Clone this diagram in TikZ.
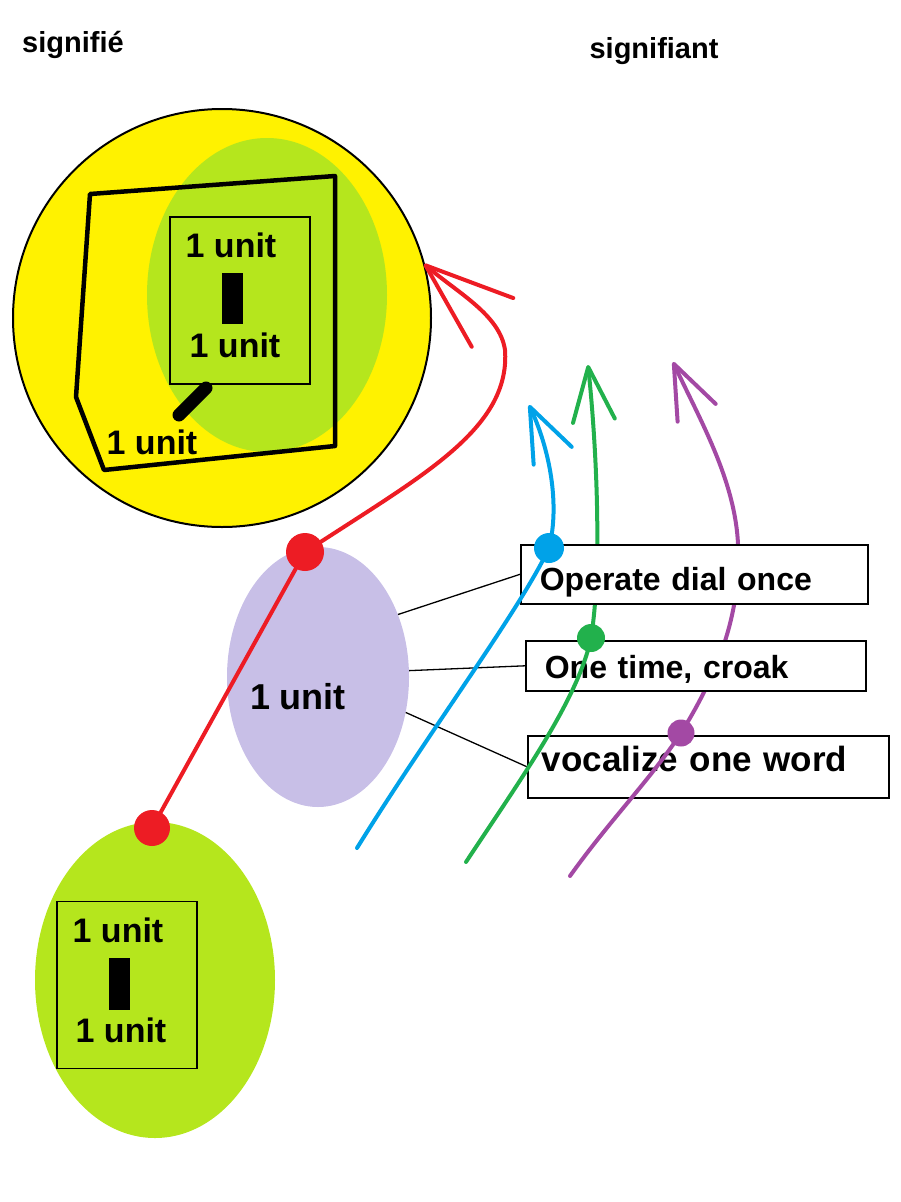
\documentclass[tikz,border=0pt]{standalone}
\usepackage{fontspec}
\setmainfont{Liberation Sans}
\usetikzlibrary{arrows.meta, shapes.geometric, positioning}
\definecolor{pyellow}{HTML}{FFF200}
\definecolor{plime}{HTML}{B5E61D}
\definecolor{plav}{HTML}{C8BFE7}
\definecolor{pred}{HTML}{ED1C24}
\definecolor{pblue}{HTML}{00A2E8}
\definecolor{pgreen}{HTML}{22B14C}
\definecolor{ppurple}{HTML}{A349A4}

\begin{document}
\begin{tikzpicture}[x=1pt,y=-1pt,>={Straight Barb[round,length=54pt,width=42pt]},
      every node/.style={font=\bfseries\fontsize{32}{38}\selectfont},
      spot/.style={circle,inner sep=0pt,minimum size=#1},
      plate/.style={draw,line width=1.6pt,inner sep=0pt,minimum width=140pt,minimum height=167pt},
      msg/.style={draw,fill=white,line width=1.6pt,anchor=north west,align=left,
        inner xsep=19pt,inner ysep=2pt,text width=#1},
      unitlabel/.style={font=\bfseries\fontsize{34}{40}\selectfont},
      curve/.style={line width=4pt,line cap=round}]
      \useasboundingbox (0,0) rectangle (900,1202);
      \node[font=\bfseries\fontsize{29}{34}\selectfont] (signifie) at (73,45) {signifié};
      \node[font=\bfseries\fontsize{29}{34}\selectfont] (signifiant) at (654,51) {signifiant};
      \node[circle,draw,line width=2pt,fill=pyellow,inner sep=0pt,minimum size=418pt] (sig) at (222,318) {};
      \node[ellipse,fill=plime,inner sep=0pt,minimum width=240pt,minimum height=314pt] (sig_in) at (267,295) {};
      \draw[line width=4.5pt,line join=round] (90,194) -- (335,176) -- (335,446) -- (104,470) -- (76,397) -- cycle;
      \node[plate] (plate_1) at (240,300.5) {};
      \node[unitlabel] (unit_1) at (231,245) {1 unit};
      \node[unitlabel] (unit_2) at (235,345) {1 unit};
      \fill (222,273) rectangle (243,324);
      \draw[line width=13pt,line cap=round] (206,388) -- (179,415);
      \node[unitlabel] (unit_3) at (152,442) {1 unit};
      \node[ellipse,fill=plime,inner sep=0pt,minimum width=240pt,minimum height=316pt] (sig_low) at (155,980) {};
      \node[plate] (plate_2) at (127,985) {};
      \node[unitlabel] (unit_4) at (118,930) {1 unit};
      \node[unitlabel] (unit_5) at (121,1030) {1 unit};
      \fill (109,958) rectangle (130,1010);
      \node[ellipse,fill=plav,inner sep=0pt,minimum width=182pt,minimum height=260pt] (lav) at (318,677) {};
      \node[font=\bfseries\fontsize{36}{42}\selectfont] (unit_6) at (298,697) {1 unit};
      \coordinate (r_1) at (305,552);
      \coordinate (r_2) at (152,828);
      \coordinate (r_tip) at (424,264);
      \coordinate (b_0) at (357,848);
      \coordinate (b_1) at (549,548);
      \coordinate (b_tip) at (529,405);
      \coordinate (g_0) at (466,862);
      \coordinate (g_1) at (591,638);
      \coordinate (g_tip) at (588,365);
      \coordinate (p_0) at (570,876);
      \coordinate (p_1) at (681,733);
      \coordinate (p_tip) at (673,362);
      \draw[curve,pred] (r_2) -- (r_1);
      \draw[curve,pred,->,>={Straight Barb[round,length=88pt,width=64pt]}] (r_1) -- (350,523)
        .. controls (440,465) and (510,420) .. (505,350) .. controls (500,315) and (458,293) .. (r_tip);
      \draw[curve,pgreen,->] (g_1) .. controls (602,570) and (597,450) .. (g_tip);
      \draw[curve,ppurple,->] (p_1) .. controls (712,683) and (742,620) .. (738,544)
        .. controls (735,480) and (700,420) .. (p_tip);
      \node[msg=309pt,text height=44pt,text depth=11pt] (box_1) at (520,544) {Operate dial once};
      \node[msg=302pt,text height=36pt,text depth=10pt] (box_2) at (525,640) {One time, croak};
      \node[msg=333pt,inner xsep=14pt,font=\bfseries\fontsize{35}{40}\selectfont,text height=34pt,text depth=24pt] (box_3) at (527,735) {vocalize one word};
      \path[draw,line width=1.3pt]
      (lav.38) edge (box_1.west)
      (lav.4) edge (box_2.west)
      (lav.-22) edge (box_3.west);
      \draw[curve,pgreen] (g_0) .. controls (520,780) and (578,700) .. (g_1);
      \draw[curve,ppurple] (p_0) .. controls (610,820) and (650,780) .. (p_1);
      \draw[curve,pblue,->] (b_0) .. controls (430,730) and (520,610) .. (b_1)
        .. controls (560,505) and (550,450) .. (b_tip);
      \node[spot=38pt,fill=pred] (dot_r1) at (r_1) {};
      \node[spot=36pt,fill=pred] (dot_r2) at (r_2) {};
      \node[spot=30pt,fill=pblue] (dot_b1) at (b_1) {};
      \node[spot=28pt,fill=pgreen] (dot_g1) at (g_1) {};
      \node[spot=27pt,fill=ppurple] (dot_p1) at (p_1) {};
\end{tikzpicture}
\end{document}
